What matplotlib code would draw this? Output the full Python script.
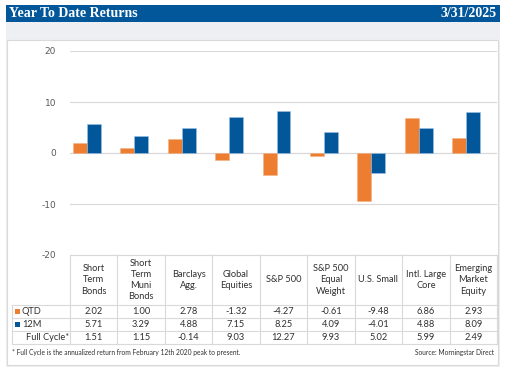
import matplotlib.pyplot as plt
from matplotlib.patches import Rectangle

plt.rcParams['axes.unicode_minus'] = False

# Dades
categories = ['Short\nTerm\nBonds', 'Short\nTerm\nMuni\nBonds', 'Barclays\nAgg.', 'Global\nEquities',
              'S&P 500', 'S&P 500\nEqual\nWeight', 'U.S. Small', 'Intl. Large\nCore', 'Emerging\nMarket\nEquity']
qtd = [2.02, 1.00, 2.78, -1.32, -4.27, -0.61, -9.48, 6.86, 2.93]
m12 = [5.71, 3.29, 4.88, 7.15, 8.25, 4.09, -4.01, 4.88, 8.09]
full_cycle = [1.51, 1.15, -0.14, 9.03, 12.27, 9.93, 5.02, 5.99, 2.49]
y_ticks = [-20, -10, 0, 10, 20]

ORANGE = '#ED7D31'
BLUE = '#02569A'
GRID = '#D9D9D9'
TXT = '#303030'

W, H = 506, 370
fig = plt.figure(figsize=(W / 100, H / 100), dpi=100)

# fons en coordenades de pixel
bg = fig.add_axes([0, 0, 1, 1])
bg.set_xlim(0, W)
bg.set_ylim(H, 0)
bg.axis('off')
bg.add_patch(Rectangle((6, 22), 494, 345, facecolor='#EEEFF2', edgecolor='none'))
bg.add_patch(Rectangle((7.5, 40), 490.5, 325, facecolor='white', edgecolor='#DADADA', lw=0.8))
bg.add_patch(Rectangle((6, 5), 494, 17, facecolor=BLUE, edgecolor='none'))
bg.text(9, 13.5, 'Year To Date Returns', color='white', fontsize=10, fontweight='bold',
        family='Liberation Serif', va='center', ha='left')
bg.text(497, 13.5, '3/31/2025', color='white', fontsize=10, fontweight='bold',
        family='Liberation Serif', va='center', ha='right')

# gràfic de barres
x0, x1, ytop, ybot = 70, 497, 51, 255
ax = fig.add_axes([x0 / W, (H - ybot) / H, (x1 - x0) / W, (ybot - ytop) / H])
n = len(qtd)
pos = list(range(n))
bw = 0.295
ax.bar([p - bw for p in pos], qtd, width=bw, color=ORANGE, edgecolor='#F4B183', lw=0.4, zorder=3)
ax.bar(pos, m12, width=bw, color=BLUE, edgecolor='#9DC3E6', lw=0.4, zorder=3)
ax.set_xlim(-0.5, n - 0.5)
ax.set_ylim(-20, 20)
ax.set_yticks(y_ticks)
ax.set_xticks([])
ax.tick_params(axis='y', length=0, labelsize=6.5, labelcolor='#595959', pad=10)
ax.grid(axis='y', color=GRID, lw=0.8, zorder=0)
ax.axhline(0, color=GRID, lw=0.8, zorder=2)
for s in ax.spines.values():
    s.set_visible(False)
ax.patch.set_alpha(0)

# taula de dades
cw = (x1 - x0) / n
row_y = [305, 318, 331, 344]
lx = 12
bg.plot([x0, x1], [ybot, ybot], color=GRID, lw=0.8)
for y in row_y:
    bg.plot([lx, x1], [y, y], color=GRID, lw=0.8)
bg.plot([lx, lx], [row_y[0], row_y[-1]], color=GRID, lw=0.8)
for i in range(n + 1):
    bg.plot([x0 + i * cw] * 2, [ybot, row_y[-1]], color=GRID, lw=0.8)

fs = 6.7
fam = ['Lato', 'DejaVu Sans']
for i, cat in enumerate(categories):
    cx = x0 + (i + 0.5) * cw
    bg.text(cx, (ybot + row_y[0]) / 2, cat, ha='center', va='center', fontsize=fs,
            color=TXT, family=fam, linespacing=1.3)
    for r, vals in enumerate([qtd, m12, full_cycle]):
        bg.text(cx, (row_y[r] + row_y[r + 1]) / 2, f'{vals[i]:.2f}', ha='center', va='center',
                fontsize=fs, color=TXT, family=fam)

labels = ['QTD', '12M', 'Full Cycle*']
keys = [ORANGE, BLUE, None]
for r, (lab, col) in enumerate(zip(labels, keys)):
    yc = (row_y[r] + row_y[r + 1]) / 2
    if col:
        bg.add_patch(Rectangle((15, yc - 2.5), 5, 5, facecolor=col, edgecolor='none'))
        bg.text(22, yc, lab, ha='left', va='center', fontsize=fs, color=TXT, family=fam)
    else:
        bg.text(26, yc, lab, ha='left', va='center', fontsize=fs, color=TXT, family=fam)

bg.text(12, 352.5, '* Full Cycle is the annualized return from February 12th 2020 peak to present.',
        ha='left', va='center', fontsize=4.8, color=TXT, family=fam)
bg.text(494, 352.5, 'Source: Morningstar Direct', ha='right', va='center', fontsize=4.8,
        color=TXT, family=fam)

fig.savefig('out.png', dpi=100)
